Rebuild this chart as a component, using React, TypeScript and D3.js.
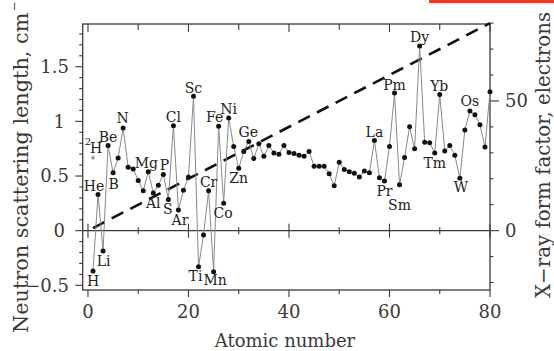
import React from "react";
import * as d3 from "d3";

// Atomic numbers 1..80 and coherent neutron scattering lengths (10^-12 cm)
const symbols = [
  "H","He","Li","Be","B","C","N","O","F","Ne",
  "Na","Mg","Al","Si","P","S","Cl","Ar","K","Ca",
  "Sc","Ti","V","Cr","Mn","Fe","Co","Ni","Cu","Zn",
  "Ga","Ge","As","Se","Br","Kr","Rb","Sr","Y","Zr",
  "Nb","Mo","Tc","Ru","Rh","Pd","Ag","Cd","In","Sn",
  "Sb","Te","I","Xe","Cs","Ba","La","Ce","Pr","Nd",
  "Pm","Sm","Eu","Gd","Tb","Dy","Ho","Er","Tm","Yb",
  "Lu","Hf","Ta","W","Re","Os","Ir","Pt","Au","Hg",
];
const bValues = [
  -0.37, 0.33, -0.185, 0.78, 0.53, 0.665, 0.94, 0.58, 0.565, 0.46,
  0.365, 0.54, 0.345, 0.415, 0.515, 0.285, 0.96, 0.19, 0.37, 0.49,
  1.23, -0.33, -0.04, 0.365, -0.375, 0.955, 0.25, 1.03, 0.77, 0.57,
  0.725, 0.815, 0.66, 0.795, 0.68, 0.78, 0.71, 0.70, 0.78, 0.715,
  0.705, 0.69, 0.68, 0.725, 0.59, 0.59, 0.59, 0.52, 0.41, 0.625,
  0.56, 0.54, 0.525, 0.49, 0.545, 0.53, 0.825, 0.485, 0.455, 0.77,
  1.26, 0.42, 0.67, 0.95, 0.75, 1.69, 0.81, 0.805, 0.71, 1.245,
  0.73, 0.78, 0.69, 0.48, 0.92, 1.095, 1.06, 0.97, 0.765, 1.27,
];
// Deuterium
const deuteriumZ = 1;
const deuteriumB = 0.667;
// X-ray form factor (= Z electrons) dashed line
const xrayZ = [1, 80];
const xrayF = [1, 80];

// Labelled elements: symbol, label offset from its point
const labelled: [string, number, number][] = [
  ["H", 0, 10], ["He", -4, -9], ["Li", 0.5, 10], ["Be", 0, -8.5], ["B", 0.5, 11.5],
  ["N", -0.5, -10], ["Mg", -2, -8.5], ["P", 1, -9], ["Al", 0, 10], ["S", -0.5, 9.5],
  ["Ar", 1.5, 10.5], ["Cl", 0, -9], ["Sc", 0, -8.5], ["Ti", -3, 9], ["Cr", 0, -9],
  ["Mn", 1.5, 8.5], ["Fe", -4, -9], ["Ni", 0, -9], ["Co", -0.5, 9.5], ["Zn", 0, 10],
  ["Ge", -0.5, -10], ["La", 0, -9], ["Pr", 0, 10], ["Sm", 0, 20], ["Pm", 0, -8],
  ["Dy", 0, -9], ["Yb", -0.5, -9], ["Tm", 0, 10], ["Os", 0, -10], ["W", 1, 9],
];

const xTicks = [0, 10, 20, 30, 40, 50, 60, 70, 80];
const xTickLabels = [0, 20, 40, 60, 80];
const yTickLabels = [-0.5, 0, 0.5, 1, 1.5];
const rightTickLabels = [0, 50];

const W = 554, H = 351;
const L = 82.7, R = 490, T = 24, B = 290;
const serif = "'DejaVu Serif', serif";
const axisCol = "#3a3a3a";

export default function App() {
  const x = d3.scaleLinear().domain([-1.05, 80]).range([L, R]);
  const y = d3.scaleLinear().domain([-0.543, 1.891]).range([B, T]);
  const yR = d3.scaleLinear().domain([-22.88, 79.67]).range([B, T]);

  const pts = bValues.map((b, i) => ({ z: i + 1, b, s: symbols[i] }));
  const line = d3.line<{ z: number; b: number }>().x((d) => x(d.z)).y((d) => y(d.b));
  const xrLine = d3.line<number>().x((_, i) => x(xrayZ[i])).y((d) => yR(d));

  const yMinor = d3.range(-5, 19).map((v) => v / 10);
  const rMinor = d3.range(-20, 81, 10);
  const star = d3.symbol(d3.symbolAsterisk, 14)() as string;

  return (
    <svg width={W} height={H} style={{ position: "absolute", left: 0, top: 0, background: "#fff" }}>
      <rect x={429} y={0} width={125} height={3} fill="#f2361c" />
      {/* frame */}
      <rect x={L} y={T} width={R - L} height={B - T} fill="none" stroke={axisCol} strokeWidth={1.3} />
      {/* zero line */}
      <line x1={L} x2={R} y1={y(0)} y2={y(0)} stroke={axisCol} strokeWidth={1.3} />
      {xTicks.map((t) => {
        const big = t % 20 === 0;
        const xx = x(t);
        return (
          <g key={"xt" + t} stroke={axisCol} strokeWidth={1.1}>
            <line x1={xx} x2={xx} y1={B} y2={B + (big ? 7 : 4)} />
            <line x1={xx} x2={xx} y1={T} y2={T + (big ? 8 : 6)} />
            <line x1={xx} x2={xx} y1={y(0) - (big ? 7 : 3.5)} y2={y(0) + (big ? 7 : 3.5)} />
          </g>
        );
      })}
      {xTickLabels.map((t) => (
        <text key={"xl" + t} x={x(t)} y={318} textAnchor="middle" fontFamily={serif} fontSize={18} fill={axisCol}>
          {t}
        </text>
      ))}
      {yMinor.map((v) => {
        const big = Math.abs(v * 2 - Math.round(v * 2)) < 1e-6;
        return (
          <line key={"ym" + v} x1={L - (big ? 7.5 : 3.5)} x2={L} y1={y(v)} y2={y(v)} stroke={axisCol} strokeWidth={1.1} />
        );
      })}
      {yTickLabels.map((v) => (
        <text
          key={"yl" + v}
          x={Number.isInteger(v) ? 65 : 69}
          y={y(v)}
          dy="0.36em"
          textAnchor="end"
          fontFamily={serif}
          fontSize={18}
          fill={axisCol}
        >
          {v < 0 ? "\u2212" + Math.abs(v) : String(v)}
        </text>
      ))}
      {rMinor.map((v) => {
        const big = v % 50 === 0;
        return (
          <line key={"rm" + v} x1={R} x2={R + (big ? 9 : 3.5)} y1={yR(v)} y2={yR(v)} stroke={axisCol} strokeWidth={1.1} />
        );
      })}
      {rightTickLabels.map((v) => (
        <text key={"rl" + v} x={505} y={yR(v)} dy="0.36em" fontFamily={serif} fontSize={18} fill={axisCol}>
          {v}
        </text>
      ))}
      {/* axis titles */}
      <text x={285} y={347} textAnchor="middle" fontFamily={serif} fontSize={18} fill={axisCol}>
        Atomic number
      </text>
      <text transform="translate(27.5,333) rotate(-90)" fontFamily={serif} fontSize={20.8} fill={axisCol}>
        Neutron scattering length, cm
        <tspan fontSize={12} dy={-10} dx={1}>{"\u2212"}</tspan>
      </text>
      <text transform="translate(550,298) rotate(-90)" fontFamily={serif} fontSize={19.8} fill={axisCol}>
        X{"\u2212"}ray form factor, electrons
      </text>
      {/* x-ray dashed line */}
      <path d={xrLine(xrayF) as string} fill="none" stroke="#111" strokeWidth={2.6} strokeDasharray="13,8" />
      {/* neutron data */}
      <path d={line(pts) as string} fill="none" stroke="#8a8a8a" strokeWidth={1} />
      {pts.map((p) => (
        <circle key={"p" + p.z} cx={x(p.z)} cy={y(p.b)} r={2.5} fill="#111" />
      ))}
      <path d={star} transform={`translate(${x(deuteriumZ)},${y(deuteriumB)})`} fill="none" stroke="#777" strokeWidth={0.8} />
      <text x={x(deuteriumZ) - 5} y={y(deuteriumB) - 16} textAnchor="middle" dy="0.36em" fontFamily={serif} fontSize={10} fill="#222">
        2
      </text>
      <text x={x(deuteriumZ) + 3} y={y(deuteriumB) - 9.5} textAnchor="middle" dy="0.36em" fontFamily={serif} fontSize={14} fill="#222">
        H
      </text>
      {labelled.map(([s, dx, dy]) => {
        const i = symbols.indexOf(s);
        return (
          <text
            key={"lab" + s}
            x={x(i + 1) + dx}
            y={y(bValues[i]) + dy}
            dy="0.36em"
            textAnchor="middle"
            fontFamily={serif}
            fontSize={14}
            fill="#222"
          >
            {s}
          </text>
        );
      })}
    </svg>
  );
}
